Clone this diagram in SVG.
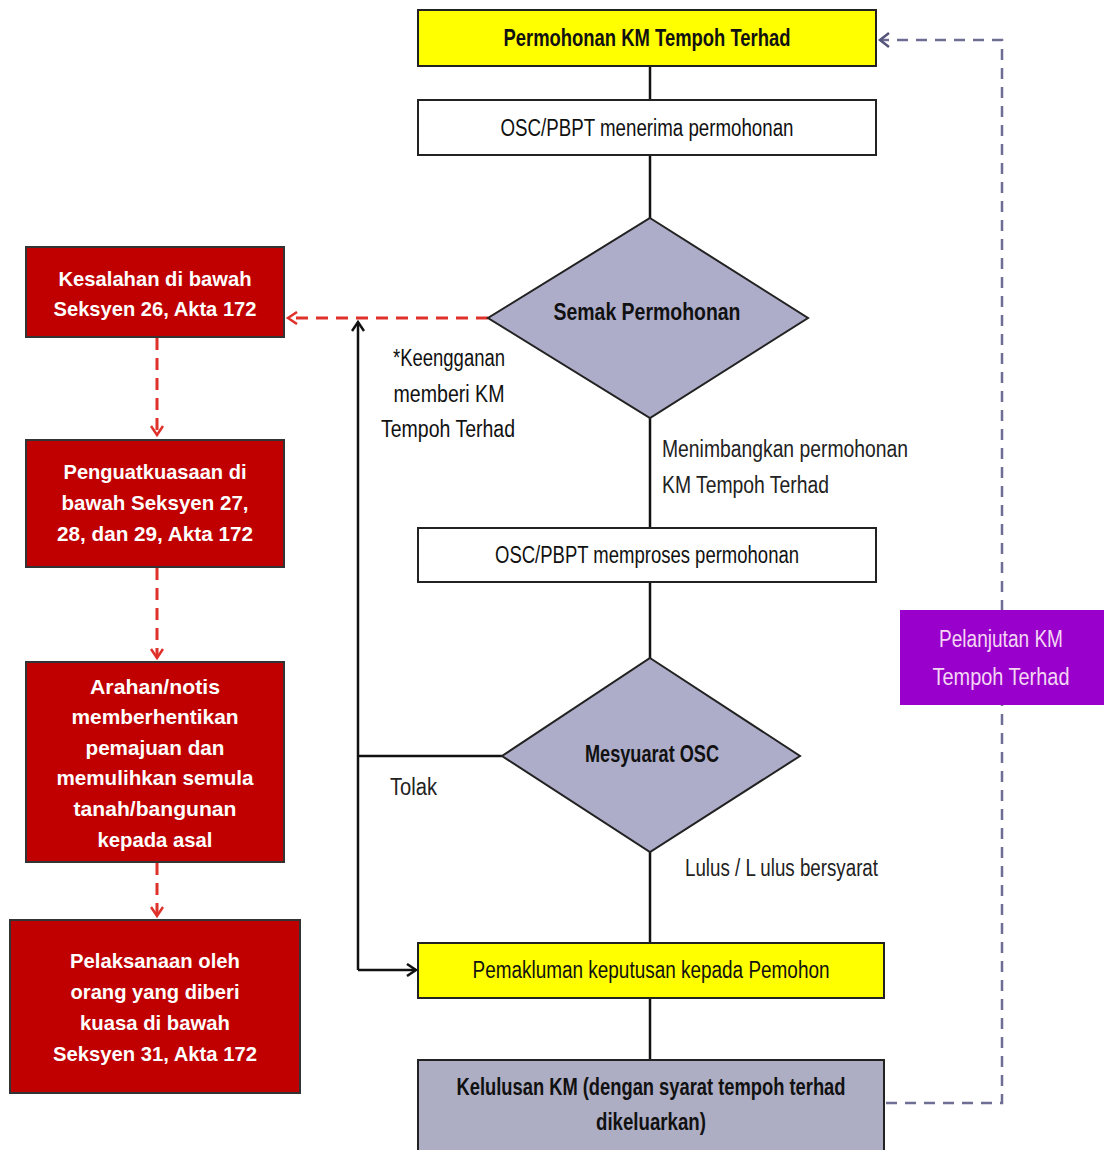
<svg xmlns="http://www.w3.org/2000/svg" width="1106" height="1150" viewBox="0 0 1106 1150">
<defs>
<style>
text{font-family:"Liberation Sans",Arial,sans-serif;text-anchor:middle}
.box{stroke:#222;stroke-width:2}
.y{fill:#ffff00}
.w{fill:#ffffff}
.g{fill:#adadc4}
.r{fill:#c00000;stroke:#333;stroke-width:2}
.dia{fill:#adadc9;stroke:#222;stroke-width:2}
.t{font-size:23px;fill:#111}
.tb{font-size:23px;font-weight:bold;fill:#111}
.rt{font-size:21px;font-weight:bold;fill:#ffffff}
.lbl{font-size:23px;fill:#222;text-anchor:start}
.pt{font-size:23px;fill:#f4d6f4}
.ln{stroke:#111;stroke-width:2.5;fill:none}
.rd{stroke:#e0302a;stroke-width:3;fill:none;stroke-dasharray:12 8}
.pd{stroke:#6e6e94;stroke-width:2.5;fill:none;stroke-dasharray:11 8}
</style>
<marker id="ab" markerWidth="14" markerHeight="14" refX="11" refY="7" orient="auto" markerUnits="userSpaceOnUse"><path d="M2,1 L11,7 L2,13" fill="none" stroke="#111" stroke-width="2.5"/></marker>
<marker id="ar" markerWidth="14" markerHeight="14" refX="11" refY="7" orient="auto" markerUnits="userSpaceOnUse"><path d="M2,1 L11,7 L2,13" fill="none" stroke="#e0302a" stroke-width="2.5"/></marker>
<marker id="ap" markerWidth="14" markerHeight="16" refX="11" refY="8" orient="auto" markerUnits="userSpaceOnUse"><path d="M2,1 L11,8 L2,15" fill="none" stroke="#55557a" stroke-width="2.5"/></marker>
</defs>
<rect width="1106" height="1150" fill="#ffffff"/>
<g id="connectors">
<line class="ln" x1="650" y1="66" x2="650" y2="100"/>
<line class="ln" x1="650" y1="155" x2="650" y2="218"/>
<line class="ln" x1="650" y1="418" x2="650" y2="528"/>
<line class="ln" x1="650" y1="582" x2="650" y2="658"/>
<line class="ln" x1="650" y1="852" x2="650" y2="943"/>
<line class="ln" x1="650" y1="998" x2="650" y2="1060"/>
<polyline class="ln" points="502,756 358,756"/>
<polyline class="ln" points="358,970 358,322" marker-end="url(#ab)"/>
<polyline class="ln" points="358,970 416,970" marker-end="url(#ab)"/>
<polyline class="rd" points="488,318 288,318" marker-end="url(#ar)"/>
<polyline class="rd" points="157,338 157,435" marker-end="url(#ar)"/>
<polyline class="rd" points="157,568 157,658" marker-end="url(#ar)"/>
<polyline class="rd" points="157,863 157,916" marker-end="url(#ar)"/>
<polyline class="pd" points="886,1103 1002,1103 1002,40 880,40" marker-end="url(#ap)"/>
</g>
<g id="n-permohonan"><rect class="box y" x="418" y="10" width="458" height="56"/><text class="tb" x="647" y="46" textLength="287" lengthAdjust="spacingAndGlyphs">Permohonan KM Tempoh Terhad</text></g>
<g id="n-menerima"><rect class="box w" x="418" y="100" width="458" height="55"/><text class="t" x="647" y="136" textLength="293" lengthAdjust="spacingAndGlyphs">OSC/PBPT menerima permohonan</text></g>
<g id="n-semak"><polygon class="dia" points="650,218 808,318 650,418 488,318"/><text class="tb" x="647" y="320" textLength="187" lengthAdjust="spacingAndGlyphs">Semak Permohonan</text></g>
<g id="n-memproses"><rect class="box w" x="418" y="528" width="458" height="54"/><text class="t" x="647" y="563" textLength="304" lengthAdjust="spacingAndGlyphs">OSC/PBPT memproses permohonan</text></g>
<g id="n-mesyuarat"><polygon class="dia" points="650,658 800,756 650,852 502,756"/><text class="tb" x="652" y="762" textLength="134" lengthAdjust="spacingAndGlyphs">Mesyuarat OSC</text></g>
<g id="n-pemakluman"><rect class="box y" x="418" y="943" width="466" height="55"/><text class="t" x="651" y="978" textLength="357" lengthAdjust="spacingAndGlyphs">Pemakluman keputusan kepada Pemohon</text></g>
<g id="n-kelulusan"><rect class="box g" x="418" y="1060" width="466" height="96"/><text class="tb" x="651" y="1095" textLength="389" lengthAdjust="spacingAndGlyphs">Kelulusan KM (dengan syarat tempoh terhad</text><text class="tb" x="651" y="1130" textLength="110" lengthAdjust="spacingAndGlyphs">dikeluarkan)</text></g>
<g id="n-pelanjutan"><rect fill="#9900cc" x="900" y="610" width="204" height="95"/><text class="pt" x="1001" y="647" textLength="124" lengthAdjust="spacingAndGlyphs">Pelanjutan KM</text><text class="pt" x="1001" y="685" textLength="137" lengthAdjust="spacingAndGlyphs">Tempoh Terhad</text></g>
<g id="n-kesalahan"><rect class="r" x="26" y="247" width="258" height="90"/><text class="rt" x="155" y="286" textLength="193" lengthAdjust="spacingAndGlyphs">Kesalahan di bawah</text><text class="rt" x="155" y="316" textLength="203" lengthAdjust="spacingAndGlyphs">Seksyen 26, Akta 172</text></g>
<g id="n-penguatkuasaan"><rect class="r" x="26" y="440" width="258" height="127"/><text class="rt" x="155" y="479" textLength="183" lengthAdjust="spacingAndGlyphs">Penguatkuasaan di</text><text class="rt" x="155" y="510" textLength="187" lengthAdjust="spacingAndGlyphs">bawah Seksyen 27,</text><text class="rt" x="155" y="541" textLength="196" lengthAdjust="spacingAndGlyphs">28, dan 29, Akta 172</text></g>
<g id="n-arahan"><rect class="r" x="26" y="662" width="258" height="200"/><text class="rt" x="155" y="694" textLength="130" lengthAdjust="spacingAndGlyphs">Arahan/notis</text><text class="rt" x="155" y="724" textLength="167" lengthAdjust="spacingAndGlyphs">memberhentikan</text><text class="rt" x="155" y="755" textLength="139" lengthAdjust="spacingAndGlyphs">pemajuan dan</text><text class="rt" x="155" y="785" textLength="197" lengthAdjust="spacingAndGlyphs">memulihkan semula</text><text class="rt" x="155" y="816" textLength="163" lengthAdjust="spacingAndGlyphs">tanah/bangunan</text><text class="rt" x="155" y="847" textLength="115" lengthAdjust="spacingAndGlyphs">kepada asal</text></g>
<g id="n-pelaksanaan"><rect class="r" x="10" y="920" width="290" height="173"/><text class="rt" x="155" y="968" textLength="170" lengthAdjust="spacingAndGlyphs">Pelaksanaan oleh</text><text class="rt" x="155" y="999" textLength="169" lengthAdjust="spacingAndGlyphs">orang yang diberi</text><text class="rt" x="155" y="1030" textLength="150" lengthAdjust="spacingAndGlyphs">kuasa di bawah</text><text class="rt" x="155" y="1061" textLength="204" lengthAdjust="spacingAndGlyphs">Seksyen 31, Akta 172</text></g>
<g id="labels">
<text class="t" x="449" y="366" textLength="112" lengthAdjust="spacingAndGlyphs">*Keengganan</text>
<text class="t" x="449" y="402" textLength="111" lengthAdjust="spacingAndGlyphs">memberi KM</text>
<text class="t" x="448" y="437" textLength="134" lengthAdjust="spacingAndGlyphs">Tempoh Terhad</text>
<text class="lbl" x="662" y="457" textLength="246" lengthAdjust="spacingAndGlyphs">Menimbangkan permohonan</text>
<text class="lbl" x="662" y="493" textLength="167" lengthAdjust="spacingAndGlyphs">KM Tempoh Terhad</text>
<text class="lbl" x="390" y="795" textLength="47" lengthAdjust="spacingAndGlyphs">Tolak</text>
<text class="lbl" x="685" y="876" textLength="193" lengthAdjust="spacingAndGlyphs">Lulus / L ulus bersyarat</text>
</g>
</svg>
